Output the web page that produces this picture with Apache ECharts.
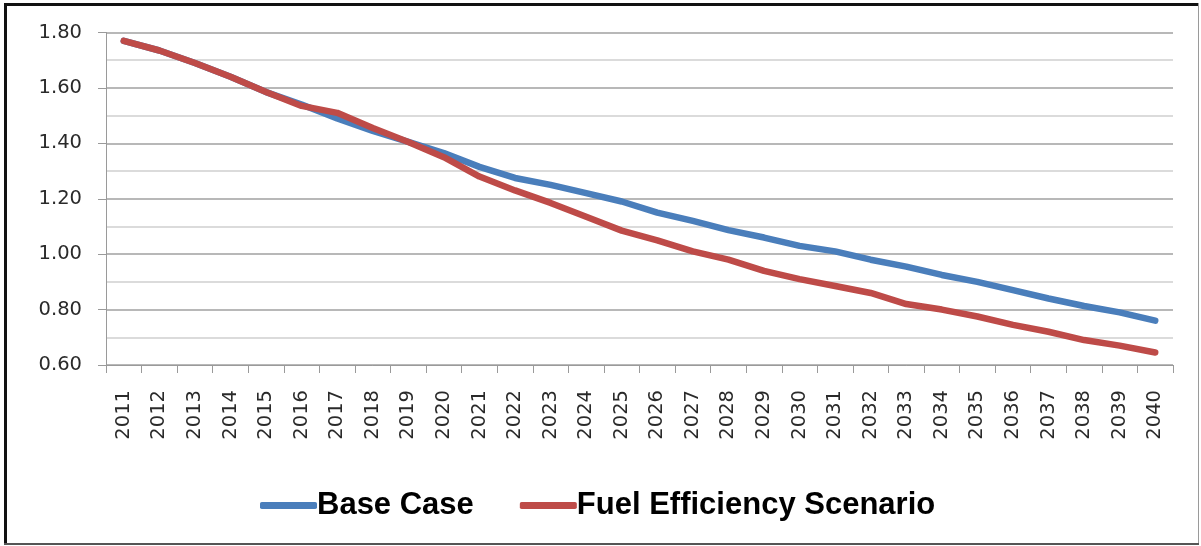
<!DOCTYPE html>
<html>
<head>
<meta charset="utf-8">
<script src="https://cdn.jsdelivr.net/npm/echarts@6/dist/echarts.min.js"></script>
<style>
html,body{margin:0;padding:0;background:#fff;}
#chart{width:1201px;height:546px;}
</style>
</head>
<body>
<div id="chart"></div>
<script>
const years = ['2011','2012','2013','2014','2015','2016','2017','2018','2019','2020','2021','2022','2023','2024','2025','2026','2027','2028','2029','2030','2031','2032','2033','2034','2035','2036','2037','2038','2039','2040'];
const baseCase = [1.77,1.735,1.69,1.64,1.585,1.54,1.49,1.445,1.405,1.365,1.315,1.275,1.25,1.22,1.19,1.15,1.12,1.087,1.06,1.03,1.01,0.98,0.955,0.925,0.90,0.87,0.84,0.813,0.79,0.76];
const fuelEfficiency = [1.77,1.735,1.69,1.64,1.585,1.535,1.51,1.455,1.405,1.35,1.28,1.23,1.185,1.135,1.085,1.05,1.01,0.98,0.94,0.91,0.885,0.86,0.82,0.80,0.775,0.745,0.72,0.69,0.67,0.645];
const seriesNames = ['Base Case','Fuel Efficiency Scenario'];
const yMin = 0.6, yMax = 1.8, yStep = 0.2;

const chart = echarts.init(document.getElementById('chart'), null, {renderer:'canvas'});
chart.setOption({
  animation:false,
  backgroundColor:'#fff',
  grid:{left:106,right:28,top:32.5,bottom:181,containLabel:false},
  legend:{
    data:seriesNames,
    left:255, top:485,
    icon:'roundRect',
    itemWidth:57, itemHeight:7, itemGap:46,
    textStyle:{fontFamily:'Liberation Sans',fontWeight:'bold',fontSize:31,color:'#000',padding:[0,0,0,-5]}
  },
  xAxis:{
    type:'category', data:years, boundaryGap:true,
    axisLine:{lineStyle:{color:'#9a9a9a',width:1}},
    axisTick:{show:true,length:8,lineStyle:{color:'#9a9a9a'}},
    axisLabel:{rotate:90,margin:25,fontFamily:'DejaVu Sans',fontSize:19.5,color:'#2a2a2a',interval:0},
    splitLine:{show:false}
  },
  yAxis:{
    type:'value', min:yMin, max:yMax, interval:yStep,
    axisLine:{show:true,lineStyle:{color:'#9a9a9a',width:1}},
    axisTick:{show:true,length:8,lineStyle:{color:'#9a9a9a'}},
    axisLabel:{margin:24,fontFamily:'DejaVu Sans',fontSize:19.5,color:'#2a2a2a',formatter:v=>v.toFixed(2)},
    splitLine:{show:true,lineStyle:{color:'#a0a0a0',width:1.5}},
    minorTick:{show:false,splitNumber:2},
    minorSplitLine:{show:true,lineStyle:{color:'#cfcfcf',width:1.5}}
  },
  series:[
    {name:seriesNames[0],type:'line',data:baseCase,symbol:'none',smooth:false,
     color:'#4a7ebb',lineStyle:{color:'#4a7ebb',width:6.5,cap:'round',join:'round'}},
    {name:seriesNames[1],type:'line',data:fuelEfficiency,symbol:'none',smooth:false,
     color:'#be4b48',lineStyle:{color:'#be4b48',width:6.5,cap:'round',join:'round'}}
  ],
  graphic:[
    {type:'rect',shape:{x:4,y:3,width:3,height:542},style:{fill:'#111'},silent:true},
    {type:'rect',shape:{x:4,y:3,width:1195,height:3},style:{fill:'#111'},silent:true},
    {type:'rect',shape:{x:1198,y:3,width:1,height:542},style:{fill:'#9a9a9a'},silent:true},
    {type:'rect',shape:{x:4,y:543,width:1195,height:2},style:{fill:'#555'},silent:true}
  ]
});
</script>
</body>
</html>
